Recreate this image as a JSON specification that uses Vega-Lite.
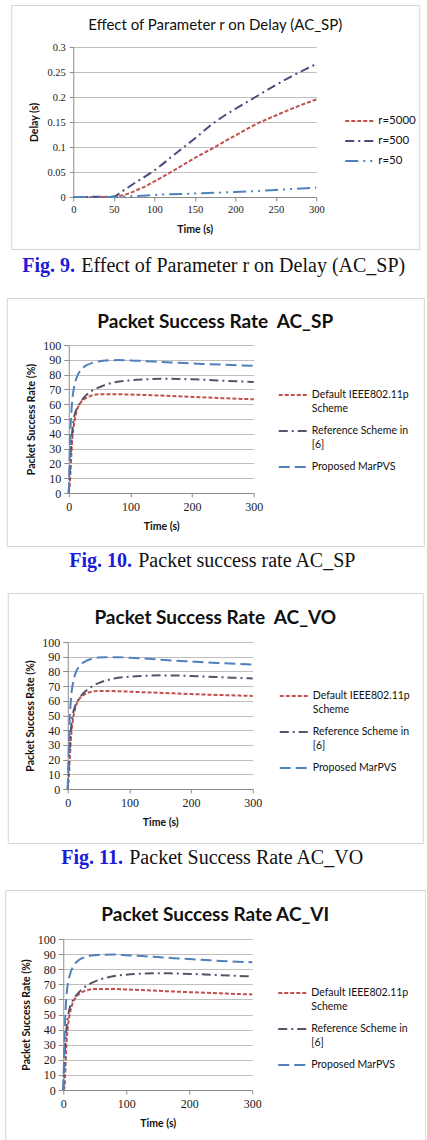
{
  "$schema": "https://vega.github.io/schema/vega-lite/v6.json",
  "background": "white",
  "padding": {"left": 4, "top": 4, "right": 0, "bottom": 0},
  "spacing": 21,
  "center": true,
  "resolve": {"scale": {"color": "independent", "strokeDash": "independent", "strokeWidth": "independent"}, "legend": {"color": "independent", "strokeDash": "independent", "strokeWidth": "independent"}},
  "config": {
    "view": {"stroke": "#d4d4d4", "strokeWidth": 1},
    "style": {"guide-label": {"lineHeight": 14}},
    "axis": {
      "labelFont": "Liberation Serif", "labelColor": "#1a1a1a", "labelFlush": false, "labelOverlap": false,
      "titleFont": "Lato", "titleFontWeight": "bold", "titleColor": "#111111",
      "domainColor": "#8c8c8c", "tickColor": "#8c8c8c", "gridColor": "#bfbfbf", "gridWidth": 1
    },
    "legend": {"labelFont": "Lato", "labelColor": "#111111", "padding": 0, "title": null}
  },
  "datasets": {
    "delay": [
      {"t": 20, "d": 0, "r": "r=5000"}, {"t": 40, "d": 0, "r": "r=5000"}, {"t": 50, "d": 0, "r": "r=5000"}, {"t": 60, "d": 0.003, "r": "r=5000"}, {"t": 70, "d": 0.008, "r": "r=5000"}, {"t": 80, "d": 0.015, "r": "r=5000"}, {"t": 90, "d": 0.022, "r": "r=5000"}, {"t": 100, "d": 0.031, "r": "r=5000"}, {"t": 125, "d": 0.054, "r": "r=5000"}, {"t": 150, "d": 0.078, "r": "r=5000"}, {"t": 175, "d": 0.1, "r": "r=5000"}, {"t": 200, "d": 0.123, "r": "r=5000"}, {"t": 225, "d": 0.145, "r": "r=5000"}, {"t": 250, "d": 0.163, "r": "r=5000"}, {"t": 275, "d": 0.18, "r": "r=5000"}, {"t": 300, "d": 0.195, "r": "r=5000"},
      {"t": 0, "d": 0, "r": "r=500"}, {"t": 50, "d": 0.001, "r": "r=500"}, {"t": 60, "d": 0.011, "r": "r=500"}, {"t": 75, "d": 0.027, "r": "r=500"}, {"t": 100, "d": 0.053, "r": "r=500"}, {"t": 125, "d": 0.085, "r": "r=500"}, {"t": 150, "d": 0.117, "r": "r=500"}, {"t": 175, "d": 0.15, "r": "r=500"}, {"t": 200, "d": 0.176, "r": "r=500"}, {"t": 225, "d": 0.2, "r": "r=500"}, {"t": 250, "d": 0.224, "r": "r=500"}, {"t": 275, "d": 0.246, "r": "r=500"}, {"t": 300, "d": 0.266, "r": "r=500"},
      {"t": 0, "d": 0, "r": "r=50"}, {"t": 50, "d": 0, "r": "r=50"}, {"t": 65, "d": 0.001, "r": "r=50"}, {"t": 80, "d": 0.002, "r": "r=50"}, {"t": 100, "d": 0.004, "r": "r=50"}, {"t": 150, "d": 0.007, "r": "r=50"}, {"t": 200, "d": 0.01, "r": "r=50"}, {"t": 250, "d": 0.014, "r": "r=50"}, {"t": 300, "d": 0.019, "r": "r=50"}
    ],
    "sp": [
      {"t": 0, "v": 0, "s": "Default IEEE802.11p Scheme"}, {"t": 1, "v": 3, "s": "Default IEEE802.11p Scheme"}, {"t": 2, "v": 8, "s": "Default IEEE802.11p Scheme"}, {"t": 3, "v": 16, "s": "Default IEEE802.11p Scheme"}, {"t": 4, "v": 24, "s": "Default IEEE802.11p Scheme"}, {"t": 5, "v": 32, "s": "Default IEEE802.11p Scheme"}, {"t": 6, "v": 38, "s": "Default IEEE802.11p Scheme"}, {"t": 8, "v": 45, "s": "Default IEEE802.11p Scheme"}, {"t": 10, "v": 50, "s": "Default IEEE802.11p Scheme"}, {"t": 12, "v": 54, "s": "Default IEEE802.11p Scheme"}, {"t": 15, "v": 58, "s": "Default IEEE802.11p Scheme"}, {"t": 20, "v": 61.5, "s": "Default IEEE802.11p Scheme"}, {"t": 25, "v": 63.3, "s": "Default IEEE802.11p Scheme"}, {"t": 30, "v": 64.5, "s": "Default IEEE802.11p Scheme"}, {"t": 40, "v": 66.2, "s": "Default IEEE802.11p Scheme"}, {"t": 50, "v": 66.8, "s": "Default IEEE802.11p Scheme"}, {"t": 75, "v": 66.8, "s": "Default IEEE802.11p Scheme"}, {"t": 100, "v": 66.5, "s": "Default IEEE802.11p Scheme"}, {"t": 125, "v": 66.2, "s": "Default IEEE802.11p Scheme"}, {"t": 150, "v": 65.8, "s": "Default IEEE802.11p Scheme"}, {"t": 175, "v": 65.4, "s": "Default IEEE802.11p Scheme"}, {"t": 200, "v": 64.9, "s": "Default IEEE802.11p Scheme"}, {"t": 225, "v": 64.5, "s": "Default IEEE802.11p Scheme"}, {"t": 250, "v": 64.1, "s": "Default IEEE802.11p Scheme"}, {"t": 275, "v": 63.7, "s": "Default IEEE802.11p Scheme"}, {"t": 300, "v": 63.3, "s": "Default IEEE802.11p Scheme"},
      {"t": 0, "v": 0, "s": "Reference Scheme in [6]"}, {"t": 1, "v": 8, "s": "Reference Scheme in [6]"}, {"t": 2, "v": 16, "s": "Reference Scheme in [6]"}, {"t": 3, "v": 26, "s": "Reference Scheme in [6]"}, {"t": 4, "v": 33, "s": "Reference Scheme in [6]"}, {"t": 6, "v": 43, "s": "Reference Scheme in [6]"}, {"t": 8, "v": 50, "s": "Reference Scheme in [6]"}, {"t": 10, "v": 53.5, "s": "Reference Scheme in [6]"}, {"t": 13, "v": 57, "s": "Reference Scheme in [6]"}, {"t": 17, "v": 60, "s": "Reference Scheme in [6]"}, {"t": 20, "v": 62, "s": "Reference Scheme in [6]"}, {"t": 25, "v": 64.7, "s": "Reference Scheme in [6]"}, {"t": 30, "v": 66.7, "s": "Reference Scheme in [6]"}, {"t": 40, "v": 69.7, "s": "Reference Scheme in [6]"}, {"t": 50, "v": 71.5, "s": "Reference Scheme in [6]"}, {"t": 60, "v": 73.2, "s": "Reference Scheme in [6]"}, {"t": 75, "v": 74.8, "s": "Reference Scheme in [6]"}, {"t": 100, "v": 76.1, "s": "Reference Scheme in [6]"}, {"t": 125, "v": 76.8, "s": "Reference Scheme in [6]"}, {"t": 150, "v": 77.2, "s": "Reference Scheme in [6]"}, {"t": 175, "v": 77.1, "s": "Reference Scheme in [6]"}, {"t": 200, "v": 76.8, "s": "Reference Scheme in [6]"}, {"t": 225, "v": 76.4, "s": "Reference Scheme in [6]"}, {"t": 250, "v": 75.9, "s": "Reference Scheme in [6]"}, {"t": 275, "v": 75.4, "s": "Reference Scheme in [6]"}, {"t": 300, "v": 75, "s": "Reference Scheme in [6]"},
      {"t": 0, "v": 0, "s": "Proposed MarPVS"}, {"t": 1, "v": 15, "s": "Proposed MarPVS"}, {"t": 2, "v": 32, "s": "Proposed MarPVS"}, {"t": 3, "v": 45, "s": "Proposed MarPVS"}, {"t": 4, "v": 53, "s": "Proposed MarPVS"}, {"t": 6, "v": 64, "s": "Proposed MarPVS"}, {"t": 8, "v": 70, "s": "Proposed MarPVS"}, {"t": 10, "v": 74, "s": "Proposed MarPVS"}, {"t": 12, "v": 77, "s": "Proposed MarPVS"}, {"t": 15, "v": 80, "s": "Proposed MarPVS"}, {"t": 20, "v": 83.5, "s": "Proposed MarPVS"}, {"t": 25, "v": 85.2, "s": "Proposed MarPVS"}, {"t": 30, "v": 86.5, "s": "Proposed MarPVS"}, {"t": 40, "v": 88.2, "s": "Proposed MarPVS"}, {"t": 50, "v": 89, "s": "Proposed MarPVS"}, {"t": 60, "v": 89.5, "s": "Proposed MarPVS"}, {"t": 80, "v": 89.8, "s": "Proposed MarPVS"}, {"t": 100, "v": 89.6, "s": "Proposed MarPVS"}, {"t": 125, "v": 89.1, "s": "Proposed MarPVS"}, {"t": 150, "v": 88.5, "s": "Proposed MarPVS"}, {"t": 175, "v": 88, "s": "Proposed MarPVS"}, {"t": 200, "v": 87.5, "s": "Proposed MarPVS"}, {"t": 225, "v": 87.1, "s": "Proposed MarPVS"}, {"t": 250, "v": 86.7, "s": "Proposed MarPVS"}, {"t": 275, "v": 86.3, "s": "Proposed MarPVS"}, {"t": 300, "v": 86, "s": "Proposed MarPVS"}
    ],
    "vo": [
      {"t": 0, "v": 0, "s": "Default IEEE802.11p Scheme"}, {"t": 1, "v": 4, "s": "Default IEEE802.11p Scheme"}, {"t": 2, "v": 10, "s": "Default IEEE802.11p Scheme"}, {"t": 3, "v": 18, "s": "Default IEEE802.11p Scheme"}, {"t": 4, "v": 26, "s": "Default IEEE802.11p Scheme"}, {"t": 5, "v": 33, "s": "Default IEEE802.11p Scheme"}, {"t": 6, "v": 39, "s": "Default IEEE802.11p Scheme"}, {"t": 8, "v": 46, "s": "Default IEEE802.11p Scheme"}, {"t": 10, "v": 51, "s": "Default IEEE802.11p Scheme"}, {"t": 12, "v": 54.5, "s": "Default IEEE802.11p Scheme"}, {"t": 15, "v": 58.5, "s": "Default IEEE802.11p Scheme"}, {"t": 20, "v": 62, "s": "Default IEEE802.11p Scheme"}, {"t": 25, "v": 63.8, "s": "Default IEEE802.11p Scheme"}, {"t": 30, "v": 65, "s": "Default IEEE802.11p Scheme"}, {"t": 40, "v": 66.3, "s": "Default IEEE802.11p Scheme"}, {"t": 50, "v": 66.7, "s": "Default IEEE802.11p Scheme"}, {"t": 75, "v": 66.6, "s": "Default IEEE802.11p Scheme"}, {"t": 100, "v": 66.2, "s": "Default IEEE802.11p Scheme"}, {"t": 125, "v": 65.8, "s": "Default IEEE802.11p Scheme"}, {"t": 150, "v": 65.4, "s": "Default IEEE802.11p Scheme"}, {"t": 175, "v": 65, "s": "Default IEEE802.11p Scheme"}, {"t": 200, "v": 64.6, "s": "Default IEEE802.11p Scheme"}, {"t": 225, "v": 64.2, "s": "Default IEEE802.11p Scheme"}, {"t": 250, "v": 63.9, "s": "Default IEEE802.11p Scheme"}, {"t": 275, "v": 63.6, "s": "Default IEEE802.11p Scheme"}, {"t": 300, "v": 63.3, "s": "Default IEEE802.11p Scheme"},
      {"t": 0, "v": 0, "s": "Reference Scheme in [6]"}, {"t": 1, "v": 9, "s": "Reference Scheme in [6]"}, {"t": 2, "v": 18, "s": "Reference Scheme in [6]"}, {"t": 3, "v": 27, "s": "Reference Scheme in [6]"}, {"t": 4, "v": 34, "s": "Reference Scheme in [6]"}, {"t": 6, "v": 44, "s": "Reference Scheme in [6]"}, {"t": 8, "v": 50.5, "s": "Reference Scheme in [6]"}, {"t": 10, "v": 54, "s": "Reference Scheme in [6]"}, {"t": 13, "v": 57.5, "s": "Reference Scheme in [6]"}, {"t": 17, "v": 60.5, "s": "Reference Scheme in [6]"}, {"t": 20, "v": 62.5, "s": "Reference Scheme in [6]"}, {"t": 25, "v": 65, "s": "Reference Scheme in [6]"}, {"t": 30, "v": 67, "s": "Reference Scheme in [6]"}, {"t": 40, "v": 70, "s": "Reference Scheme in [6]"}, {"t": 50, "v": 72, "s": "Reference Scheme in [6]"}, {"t": 60, "v": 73.6, "s": "Reference Scheme in [6]"}, {"t": 75, "v": 75.1, "s": "Reference Scheme in [6]"}, {"t": 100, "v": 76.4, "s": "Reference Scheme in [6]"}, {"t": 125, "v": 77, "s": "Reference Scheme in [6]"}, {"t": 150, "v": 77.3, "s": "Reference Scheme in [6]"}, {"t": 175, "v": 77.2, "s": "Reference Scheme in [6]"}, {"t": 200, "v": 76.9, "s": "Reference Scheme in [6]"}, {"t": 225, "v": 76.5, "s": "Reference Scheme in [6]"}, {"t": 250, "v": 76, "s": "Reference Scheme in [6]"}, {"t": 275, "v": 75.6, "s": "Reference Scheme in [6]"}, {"t": 300, "v": 75.2, "s": "Reference Scheme in [6]"},
      {"t": 0, "v": 0, "s": "Proposed MarPVS"}, {"t": 1, "v": 16, "s": "Proposed MarPVS"}, {"t": 2, "v": 33, "s": "Proposed MarPVS"}, {"t": 3, "v": 46, "s": "Proposed MarPVS"}, {"t": 4, "v": 54, "s": "Proposed MarPVS"}, {"t": 6, "v": 65, "s": "Proposed MarPVS"}, {"t": 8, "v": 71, "s": "Proposed MarPVS"}, {"t": 10, "v": 75, "s": "Proposed MarPVS"}, {"t": 12, "v": 78, "s": "Proposed MarPVS"}, {"t": 15, "v": 81, "s": "Proposed MarPVS"}, {"t": 20, "v": 84.2, "s": "Proposed MarPVS"}, {"t": 25, "v": 86, "s": "Proposed MarPVS"}, {"t": 30, "v": 87.2, "s": "Proposed MarPVS"}, {"t": 40, "v": 88.7, "s": "Proposed MarPVS"}, {"t": 50, "v": 89.4, "s": "Proposed MarPVS"}, {"t": 60, "v": 89.7, "s": "Proposed MarPVS"}, {"t": 80, "v": 89.7, "s": "Proposed MarPVS"}, {"t": 100, "v": 89.3, "s": "Proposed MarPVS"}, {"t": 125, "v": 88.7, "s": "Proposed MarPVS"}, {"t": 150, "v": 88, "s": "Proposed MarPVS"}, {"t": 175, "v": 87.3, "s": "Proposed MarPVS"}, {"t": 200, "v": 86.7, "s": "Proposed MarPVS"}, {"t": 225, "v": 86.1, "s": "Proposed MarPVS"}, {"t": 250, "v": 85.6, "s": "Proposed MarPVS"}, {"t": 275, "v": 85.1, "s": "Proposed MarPVS"}, {"t": 300, "v": 84.7, "s": "Proposed MarPVS"}
    ],
    "vi": [
      {"t": 0, "v": 0, "s": "Default IEEE802.11p Scheme"}, {"t": 2, "v": 2, "s": "Default IEEE802.11p Scheme"}, {"t": 3, "v": 10, "s": "Default IEEE802.11p Scheme"}, {"t": 4, "v": 20, "s": "Default IEEE802.11p Scheme"}, {"t": 5, "v": 29, "s": "Default IEEE802.11p Scheme"}, {"t": 6, "v": 36, "s": "Default IEEE802.11p Scheme"}, {"t": 8, "v": 44, "s": "Default IEEE802.11p Scheme"}, {"t": 10, "v": 49.5, "s": "Default IEEE802.11p Scheme"}, {"t": 12, "v": 53.5, "s": "Default IEEE802.11p Scheme"}, {"t": 15, "v": 57.5, "s": "Default IEEE802.11p Scheme"}, {"t": 20, "v": 61.5, "s": "Default IEEE802.11p Scheme"}, {"t": 25, "v": 63.5, "s": "Default IEEE802.11p Scheme"}, {"t": 30, "v": 64.8, "s": "Default IEEE802.11p Scheme"}, {"t": 40, "v": 66.3, "s": "Default IEEE802.11p Scheme"}, {"t": 50, "v": 66.9, "s": "Default IEEE802.11p Scheme"}, {"t": 75, "v": 66.9, "s": "Default IEEE802.11p Scheme"}, {"t": 100, "v": 66.6, "s": "Default IEEE802.11p Scheme"}, {"t": 125, "v": 66.2, "s": "Default IEEE802.11p Scheme"}, {"t": 150, "v": 65.7, "s": "Default IEEE802.11p Scheme"}, {"t": 175, "v": 65.2, "s": "Default IEEE802.11p Scheme"}, {"t": 200, "v": 64.8, "s": "Default IEEE802.11p Scheme"}, {"t": 225, "v": 64.4, "s": "Default IEEE802.11p Scheme"}, {"t": 250, "v": 64, "s": "Default IEEE802.11p Scheme"}, {"t": 275, "v": 63.6, "s": "Default IEEE802.11p Scheme"}, {"t": 300, "v": 63.3, "s": "Default IEEE802.11p Scheme"},
      {"t": 0, "v": 0, "s": "Reference Scheme in [6]"}, {"t": 1, "v": 10, "s": "Reference Scheme in [6]"}, {"t": 2, "v": 20, "s": "Reference Scheme in [6]"}, {"t": 3, "v": 29, "s": "Reference Scheme in [6]"}, {"t": 4, "v": 35, "s": "Reference Scheme in [6]"}, {"t": 6, "v": 44, "s": "Reference Scheme in [6]"}, {"t": 8, "v": 50, "s": "Reference Scheme in [6]"}, {"t": 10, "v": 54, "s": "Reference Scheme in [6]"}, {"t": 13, "v": 57.5, "s": "Reference Scheme in [6]"}, {"t": 17, "v": 60.5, "s": "Reference Scheme in [6]"}, {"t": 20, "v": 62.3, "s": "Reference Scheme in [6]"}, {"t": 25, "v": 64.8, "s": "Reference Scheme in [6]"}, {"t": 30, "v": 66.8, "s": "Reference Scheme in [6]"}, {"t": 40, "v": 69.8, "s": "Reference Scheme in [6]"}, {"t": 50, "v": 71.8, "s": "Reference Scheme in [6]"}, {"t": 60, "v": 73.4, "s": "Reference Scheme in [6]"}, {"t": 75, "v": 75, "s": "Reference Scheme in [6]"}, {"t": 100, "v": 76.4, "s": "Reference Scheme in [6]"}, {"t": 125, "v": 77.1, "s": "Reference Scheme in [6]"}, {"t": 150, "v": 77.4, "s": "Reference Scheme in [6]"}, {"t": 175, "v": 77.2, "s": "Reference Scheme in [6]"}, {"t": 200, "v": 76.9, "s": "Reference Scheme in [6]"}, {"t": 225, "v": 76.5, "s": "Reference Scheme in [6]"}, {"t": 250, "v": 76, "s": "Reference Scheme in [6]"}, {"t": 275, "v": 75.6, "s": "Reference Scheme in [6]"}, {"t": 300, "v": 75.2, "s": "Reference Scheme in [6]"},
      {"t": 0, "v": 0, "s": "Proposed MarPVS"}, {"t": 1, "v": 16, "s": "Proposed MarPVS"}, {"t": 2, "v": 33, "s": "Proposed MarPVS"}, {"t": 3, "v": 46, "s": "Proposed MarPVS"}, {"t": 4, "v": 55, "s": "Proposed MarPVS"}, {"t": 6, "v": 66, "s": "Proposed MarPVS"}, {"t": 8, "v": 72, "s": "Proposed MarPVS"}, {"t": 10, "v": 75.5, "s": "Proposed MarPVS"}, {"t": 12, "v": 78.3, "s": "Proposed MarPVS"}, {"t": 15, "v": 81.2, "s": "Proposed MarPVS"}, {"t": 20, "v": 84.3, "s": "Proposed MarPVS"}, {"t": 25, "v": 86.1, "s": "Proposed MarPVS"}, {"t": 30, "v": 87.3, "s": "Proposed MarPVS"}, {"t": 40, "v": 88.7, "s": "Proposed MarPVS"}, {"t": 50, "v": 89.3, "s": "Proposed MarPVS"}, {"t": 60, "v": 89.6, "s": "Proposed MarPVS"}, {"t": 80, "v": 89.7, "s": "Proposed MarPVS"}, {"t": 100, "v": 89.3, "s": "Proposed MarPVS"}, {"t": 125, "v": 88.7, "s": "Proposed MarPVS"}, {"t": 150, "v": 88, "s": "Proposed MarPVS"}, {"t": 175, "v": 87.3, "s": "Proposed MarPVS"}, {"t": 200, "v": 86.7, "s": "Proposed MarPVS"}, {"t": 225, "v": 86.1, "s": "Proposed MarPVS"}, {"t": 250, "v": 85.5, "s": "Proposed MarPVS"}, {"t": 275, "v": 85, "s": "Proposed MarPVS"}, {"t": 300, "v": 84.6, "s": "Proposed MarPVS"}
    ]
  },
  "vconcat": [
    {
      "title": {"text": "Fig. 9.", "orient": "bottom", "anchor": "start", "frame": "group", "baseline": "top", "offset": 0, "dx": 11, "dy": -20, "font": "Liberation Serif", "fontSize": 20, "fontWeight": "bold", "color": "#1c1cd8"},
      "resolve": {"scale": {"color": "independent", "strokeDash": "independent", "strokeWidth": "independent"}, "legend": {"color": "independent", "strokeDash": "independent", "strokeWidth": "independent"}},
      "vconcat": [{
        "title": {"text": "Effect of Parameter r on Delay (AC_SP)", "orient": "bottom", "anchor": "start", "frame": "group", "baseline": "top", "offset": 6, "dx": 70, "font": "Liberation Serif", "fontSize": 20, "fontWeight": "normal", "color": "#111111"},
        "resolve": {"scale": {"color": "independent", "strokeDash": "independent", "strokeWidth": "independent"}, "legend": {"color": "independent", "strokeDash": "independent", "strokeWidth": "independent"}},
        "vconcat": [{
          "width": 408, "height": 244,
          "title": {"text": "Effect of Parameter r on Delay (AC_SP)", "anchor": "middle", "frame": "group", "baseline": "middle", "offset": -35, "font": "Lato", "fontSize": 15, "fontWeight": "normal", "color": "#111111"},
          "data": {"name": "delay"},
          "mark": {"type": "line", "interpolate": "monotone"},
          "encoding": {
            "x": {"field": "t", "type": "quantitative", "scale": {"domain": [0, 300], "range": [62, 305], "nice": false},
              "axis": {"orient": "bottom", "offset": -52, "values": [0, 50, 100, 150, 200, 250, 300], "grid": false, "tickSize": 4, "labelPadding": 3, "labelFontSize": 10.5, "title": "Time (s)", "titleFontSize": 10.5, "titlePadding": 10}},
            "y": {"field": "d", "type": "quantitative", "scale": {"domain": [0, 0.3], "range": [192, 42], "nice": false},
              "axis": {"orient": "left", "offset": -62, "values": [0, 0.05, 0.1, 0.15, 0.2, 0.25, 0.3], "format": "~g", "grid": true, "tickSize": 4, "labelPadding": 4, "labelFontSize": 10.5, "title": "Delay (s)", "titleFontSize": 10.5, "titlePadding": 7}},
            "color": {"field": "r", "type": "nominal", "scale": {"domain": ["r=5000", "r=500", "r=50"], "range": ["#c0504d", "#4b4b7c", "#4f81bd"]},
              "legend": {"orient": "none", "legendX": 343, "legendY": 110, "symbolType": "M-3,0H3", "symbolSize": 100, "labelOffset": 12, "labelFontSize": 11.5, "rowPadding": 8}},
            "strokeDash": {"field": "r", "type": "nominal", "scale": {"domain": ["r=5000", "r=500", "r=50"], "range": [[4, 2], [9, 4, 2, 4], [13, 5, 2, 5, 2, 5]]}},
            "strokeWidth": {"field": "r", "type": "nominal", "scale": {"domain": ["r=5000", "r=500", "r=50"], "range": [2, 2, 2.5]}}
          }
        }]
      }]
    },
    {
      "title": {"text": "Fig. 10.", "orient": "bottom", "anchor": "start", "frame": "group", "baseline": "top", "offset": 0, "dx": 62.5, "dy": -20, "font": "Liberation Serif", "fontSize": 20, "fontWeight": "bold", "color": "#1c1cd8"},
      "resolve": {"scale": {"color": "independent", "strokeDash": "independent", "strokeWidth": "independent"}, "legend": {"color": "independent", "strokeDash": "independent", "strokeWidth": "independent"}},
      "vconcat": [{
        "title": {"text": "Packet success rate AC_SP", "orient": "bottom", "anchor": "start", "frame": "group", "baseline": "top", "offset": 4.5, "dx": 131.5, "font": "Liberation Serif", "fontSize": 20, "fontWeight": "normal", "color": "#111111"},
        "resolve": {"scale": {"color": "independent", "strokeDash": "independent", "strokeWidth": "independent"}, "legend": {"color": "independent", "strokeDash": "independent", "strokeWidth": "independent"}},
        "vconcat": [{
          "width": 417, "height": 248,
          "title": {"text": "Packet Success Rate\u00a0 AC_SP", "anchor": "middle", "frame": "group", "baseline": "middle", "offset": -43, "font": "Lato", "fontSize": 19, "fontWeight": "bold", "color": "#111111"},
          "data": {"name": "sp"},
          "mark": {"type": "line", "interpolate": "monotone"},
          "encoding": {
            "x": {"field": "t", "type": "quantitative", "scale": {"domain": [0, 300], "range": [62, 247], "nice": false},
              "axis": {"orient": "bottom", "offset": -53, "values": [0, 100, 200, 300], "grid": false, "tickSize": 4, "labelPadding": 4, "labelFontSize": 12, "title": "Time (s)", "titleFontSize": 10.5, "titlePadding": 9}},
            "y": {"field": "v", "type": "quantitative", "scale": {"domain": [0, 100], "range": [195, 47], "nice": false},
              "axis": {"orient": "left", "offset": -62, "values": [0, 10, 20, 30, 40, 50, 60, 70, 80, 90, 100], "grid": true, "tickSize": 5, "labelPadding": 3, "labelFontSize": 12, "title": "Packet Success Rate (%)", "titleFontSize": 10.5, "titlePadding": 6}},
            "color": {"field": "s", "type": "nominal", "scale": {"domain": ["Default IEEE802.11p Scheme", "Reference Scheme in [6]", "Proposed MarPVS"], "range": ["#c0504d", "#55556a", "#4f81bd"]},
              "legend": {"orient": "none", "legendX": 281, "legendY": 91, "symbolType": "M-3,0H3", "symbolSize": 100, "labelOffset": 12, "labelFontSize": 10.5, "rowPadding": 10,
                "labelExpr": "datum.label == 'Default IEEE802.11p Scheme' ? ['Default IEEE802.11p', 'Scheme'] : datum.label == 'Reference Scheme in [6]' ? ['Reference Scheme in', '[6]'] : datum.label",
                "encode": {"labels": {"update": {"lineHeight": {"value": 14}}}}}},
            "strokeDash": {"field": "s", "type": "nominal", "scale": {"domain": ["Default IEEE802.11p Scheme", "Reference Scheme in [6]", "Proposed MarPVS"], "range": [[4, 2], [9, 4, 2, 4], [11, 5]]}},
            "strokeWidth": {"field": "s", "type": "nominal", "scale": {"domain": ["Default IEEE802.11p Scheme", "Reference Scheme in [6]", "Proposed MarPVS"], "range": [2, 2, 2.5]}}
          }
        }]
      }]
    },
    {
      "title": {"text": "Fig. 11.", "orient": "bottom", "anchor": "start", "frame": "group", "baseline": "top", "offset": 0, "dx": 53.5, "dy": -20, "font": "Liberation Serif", "fontSize": 20, "fontWeight": "bold", "color": "#1c1cd8"},
      "resolve": {"scale": {"color": "independent", "strokeDash": "independent", "strokeWidth": "independent"}, "legend": {"color": "independent", "strokeDash": "independent", "strokeWidth": "independent"}},
      "vconcat": [{
        "title": {"text": "Packet Success Rate AC_VO", "orient": "bottom", "anchor": "start", "frame": "group", "baseline": "top", "offset": 4.5, "dx": 121.5, "font": "Liberation Serif", "fontSize": 20, "fontWeight": "normal", "color": "#111111"},
        "resolve": {"scale": {"color": "independent", "strokeDash": "independent", "strokeWidth": "independent"}, "legend": {"color": "independent", "strokeDash": "independent", "strokeWidth": "independent"}},
        "vconcat": [{
          "width": 415, "height": 250,
          "title": {"text": "Packet Success Rate\u00a0 AC_VO", "anchor": "middle", "frame": "group", "baseline": "middle", "offset": -44, "font": "Lato", "fontSize": 19, "fontWeight": "bold", "color": "#111111"},
          "data": {"name": "vo"},
          "mark": {"type": "line", "interpolate": "monotone"},
          "encoding": {
            "x": {"field": "t", "type": "quantitative", "scale": {"domain": [0, 300], "range": [60, 245], "nice": false},
              "axis": {"orient": "bottom", "offset": -54, "values": [0, 100, 200, 300], "grid": false, "tickSize": 4, "labelPadding": 4, "labelFontSize": 12, "title": "Time (s)", "titleFontSize": 10.5, "titlePadding": 9}},
            "y": {"field": "v", "type": "quantitative", "scale": {"domain": [0, 100], "range": [196, 49], "nice": false},
              "axis": {"orient": "left", "offset": -60, "values": [0, 10, 20, 30, 40, 50, 60, 70, 80, 90, 100], "grid": true, "tickSize": 5, "labelPadding": 3, "labelFontSize": 12, "title": "Packet Success Rate (%)", "titleFontSize": 10.5, "titlePadding": 6}},
            "color": {"field": "s", "type": "nominal", "scale": {"domain": ["Default IEEE802.11p Scheme", "Reference Scheme in [6]", "Proposed MarPVS"], "range": ["#c0504d", "#55556a", "#4f81bd"]},
              "legend": {"orient": "none", "legendX": 281, "legendY": 97, "symbolType": "M-3,0H3", "symbolSize": 100, "labelOffset": 12, "labelFontSize": 10.5, "rowPadding": 10,
                "labelExpr": "datum.label == 'Default IEEE802.11p Scheme' ? ['Default IEEE802.11p', 'Scheme'] : datum.label == 'Reference Scheme in [6]' ? ['Reference Scheme in', '[6]'] : datum.label",
                "encode": {"labels": {"update": {"lineHeight": {"value": 14}}}}}},
            "strokeDash": {"field": "s", "type": "nominal", "scale": {"domain": ["Default IEEE802.11p Scheme", "Reference Scheme in [6]", "Proposed MarPVS"], "range": [[4, 2], [9, 4, 2, 4], [11, 5]]}},
            "strokeWidth": {"field": "s", "type": "nominal", "scale": {"domain": ["Default IEEE802.11p Scheme", "Reference Scheme in [6]", "Proposed MarPVS"], "range": [2, 2, 2.5]}}
          }
        }]
      }]
    },
    {
      "width": 420, "height": 262,
      "title": {"text": "Packet Success Rate AC_VI", "anchor": "middle", "frame": "group", "baseline": "middle", "offset": -44, "font": "Lato", "fontSize": 19, "fontWeight": "bold", "color": "#111111"},
      "data": {"name": "vi"},
      "mark": {"type": "line", "interpolate": "monotone"},
      "encoding": {
        "x": {"field": "t", "type": "quantitative", "scale": {"domain": [0, 300], "range": [58, 247], "nice": false},
          "axis": {"orient": "bottom", "offset": -62, "values": [0, 100, 200, 300], "grid": false, "tickSize": 4, "labelPadding": 4, "labelFontSize": 12, "title": "Time (s)", "titleFontSize": 10.5, "titlePadding": 9}},
        "y": {"field": "v", "type": "quantitative", "scale": {"domain": [0, 100], "range": [200, 49], "nice": false},
          "axis": {"orient": "left", "offset": -58, "values": [0, 10, 20, 30, 40, 50, 60, 70, 80, 90, 100], "grid": true, "tickSize": 5, "labelPadding": 3, "labelFontSize": 12, "title": "Packet Success Rate (%)", "titleFontSize": 10.5, "titlePadding": 6}},
        "color": {"field": "s", "type": "nominal", "scale": {"domain": ["Default IEEE802.11p Scheme", "Reference Scheme in [6]", "Proposed MarPVS"], "range": ["#c0504d", "#55556a", "#4f81bd"]},
          "legend": {"orient": "none", "legendX": 282, "legendY": 97, "symbolType": "M-3,0H3", "symbolSize": 100, "labelOffset": 12, "labelFontSize": 10.5, "rowPadding": 10,
            "labelExpr": "datum.label == 'Default IEEE802.11p Scheme' ? ['Default IEEE802.11p', 'Scheme'] : datum.label == 'Reference Scheme in [6]' ? ['Reference Scheme in', '[6]'] : datum.label",
            "encode": {"labels": {"update": {"lineHeight": {"value": 14}}}}}},
        "strokeDash": {"field": "s", "type": "nominal", "scale": {"domain": ["Default IEEE802.11p Scheme", "Reference Scheme in [6]", "Proposed MarPVS"], "range": [[4, 2], [9, 4, 2, 4], [11, 5]]}},
        "strokeWidth": {"field": "s", "type": "nominal", "scale": {"domain": ["Default IEEE802.11p Scheme", "Reference Scheme in [6]", "Proposed MarPVS"], "range": [2, 2, 2.5]}}
      }
    }
  ]
}
